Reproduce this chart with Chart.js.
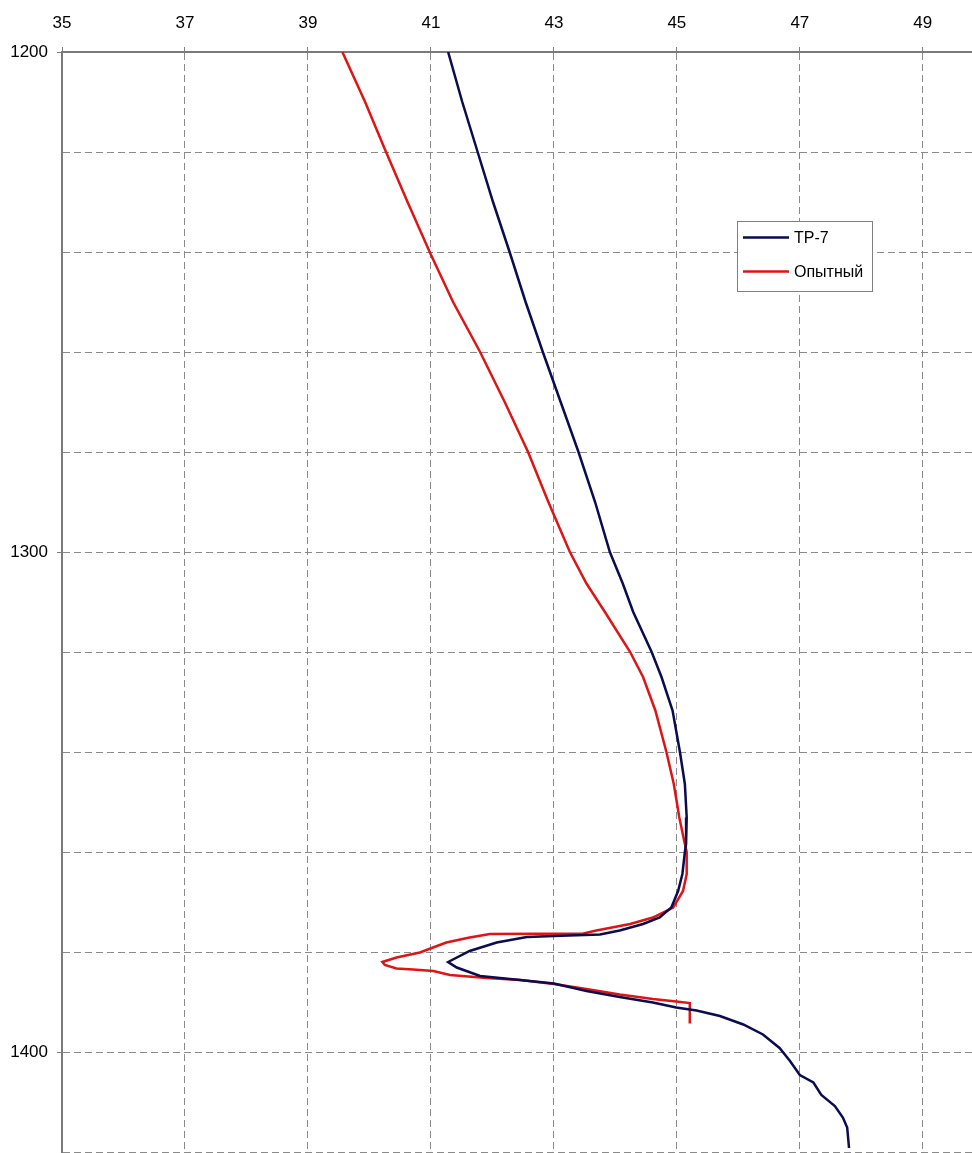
<!DOCTYPE html>
<html>
<head>
<meta charset="utf-8">
<title>Температурный профиль</title>
<script src="https://cdn.jsdelivr.net/npm/chart.js@4.4.1/dist/chart.umd.min.js"></script>
<style>
  html, body { margin: 0; padding: 0; background: #ffffff; }
  #wrap { width: 972px; height: 1153px; position: relative; }
</style>
</head>
<body>
<div id="wrap"><canvas id="chart" width="972" height="1153"></canvas></div>
<script>
// Depth (m) and temperature (°C) for the ТР-7 series
const depthTP7 = [
  1200.0, 1210.0, 1220.0, 1230.0, 1240.0, 1250.0, 1260.0, 1270.0, 1280.0, 1290.0,
  1300.0, 1306.3, 1312.0, 1320.0, 1325.0, 1331.7, 1340.0, 1346.4, 1353.1, 1358.4,
  1360.0, 1364.4, 1367.8, 1371.1, 1373.1, 1374.4, 1375.7, 1376.5, 1376.8, 1377.0,
  1378.1, 1379.8, 1382.0, 1383.1, 1384.8, 1385.6, 1386.3, 1387.8, 1389.0, 1390.1,
  1391.1, 1391.7, 1392.8, 1394.5, 1396.5, 1399.2, 1401.8, 1404.6, 1406.1, 1408.6,
  1410.8, 1413.1, 1415.1, 1419.2
];
const tempTP7 = [
  41.28, 41.51, 41.76, 42.01, 42.28, 42.54, 42.82, 43.11, 43.40, 43.67,
  43.91, 44.12, 44.29, 44.59, 44.75, 44.93, 45.05, 45.13, 45.16, 45.15,
  45.13, 45.09, 45.02, 44.91, 44.72, 44.45, 44.07, 43.75, 43.00, 42.56,
  42.07, 41.63, 41.28, 41.42, 41.80, 42.45, 43.00, 43.53, 44.07, 44.61,
  44.99, 45.32, 45.70, 46.08, 46.40, 46.67, 46.84, 47.00, 47.22, 47.35,
  47.57, 47.70, 47.77, 47.80
];

// Depth (m) and temperature (°C) for the experimental series
const depthExp = [
  1200.0, 1210.0, 1220.0, 1230.0, 1240.0, 1250.0, 1260.0, 1270.0, 1280.0, 1290.0,
  1300.0, 1306.3, 1312.0, 1320.0, 1325.0, 1331.7, 1340.0, 1346.4, 1353.1, 1358.4,
  1360.0, 1364.4, 1367.8, 1371.1, 1373.1, 1374.4, 1375.7, 1376.3, 1376.4, 1377.1,
  1378.1, 1380.1, 1381.1, 1382.0, 1382.6, 1383.3, 1383.5, 1383.8, 1384.6, 1385.2,
  1385.6, 1386.4, 1387.4, 1388.5, 1389.4, 1389.9, 1390.2, 1394.3
];
const tempExp = [
  39.56, 39.93, 40.27, 40.62, 40.98, 41.36, 41.80, 42.20, 42.58, 42.91,
  43.26, 43.53, 43.83, 44.24, 44.45, 44.65, 44.83, 44.95, 45.04, 45.13,
  45.16, 45.16, 45.10, 44.94, 44.61, 44.24, 43.69, 43.48, 41.96, 41.63,
  41.25, 40.82, 40.44, 40.21, 40.25, 40.44, 40.71, 41.04, 41.31, 41.91,
  42.45, 43.00, 43.53, 44.07, 44.61, 44.99, 45.21, 45.21
];

// Axis ticks
const tempTicks = [35, 37, 39, 41, 43, 45, 47, 49];
const depthLabelled = [1200, 1300, 1400];

const seriesNames = ['ТР-7', 'Опытный'];
const seriesColors = ['#0b0b4f', '#dd1515'];

const toPoints = (depths, temps) => depths.map((d, i) => ({ x: temps[i], y: d }));

const FONT = '"Liberation Sans", Arial, sans-serif';

// Boxed legend drawn inside the plot area
const boxLegend = {
  id: 'boxLegend',
  afterDraw(chart) {
    const ctx = chart.ctx;
    const bx = 737, by = 221, bw = 135, bh = 70;
    ctx.save();
    ctx.fillStyle = '#ffffff';
    ctx.fillRect(bx, by, bw, bh);
    ctx.strokeStyle = '#808080';
    ctx.lineWidth = 1;
    ctx.strokeRect(bx + 0.5, by + 0.5, bw, bh);
    ctx.font = '16px ' + FONT;
    ctx.textBaseline = 'middle';
    ctx.textAlign = 'left';
    chart.data.datasets.forEach((ds, i) => {
      const y = by + 16.5 + i * 34;
      ctx.strokeStyle = ds.borderColor;
      ctx.lineWidth = 2.5;
      ctx.beginPath();
      ctx.moveTo(bx + 6, y);
      ctx.lineTo(bx + 52, y);
      ctx.stroke();
      ctx.fillStyle = '#000000';
      ctx.fillText(ds.label, bx + 57, y + 1);
    });
    ctx.restore();
  }
};

new Chart(document.getElementById('chart'), {
  type: 'scatter',
  data: {
    datasets: [
      {
        label: seriesNames[0],
        data: toPoints(depthTP7, tempTP7),
        showLine: true,
        borderColor: seriesColors[0],
        backgroundColor: seriesColors[0],
        borderWidth: 2.5,
        pointRadius: 0,
        tension: 0
      },
      {
        label: seriesNames[1],
        data: toPoints(depthExp, tempExp),
        showLine: true,
        borderColor: seriesColors[1],
        backgroundColor: seriesColors[1],
        borderWidth: 2.5,
        pointRadius: 0,
        tension: 0
      }
    ]
  },
  options: {
    responsive: false,
    animation: false,
    layout: { padding: { left: 0, right: 0, top: 0, bottom: 1 } },
    plugins: {
      legend: { display: false },
      tooltip: { enabled: false }
    },
    scales: {
      x: {
        type: 'linear',
        position: 'top',
        min: 35,
        max: 49.8,
        afterBuildTicks: (scale) => { scale.ticks = tempTicks.map(v => ({ value: v })); },
        afterFit: (scale) => {
          scale.height = 52;
          scale.paddingLeft = 0;
          scale.paddingRight = 0;
        },
        ticks: {
          color: '#000000',
          font: { family: FONT, size: 17 },
          padding: 13,
          maxRotation: 0,
          autoSkip: false
        },
        grid: {
          color: '#8a8a8a',
          lineWidth: 1,
          tickLength: 5,
          tickColor: '#808080',
          tickBorderDash: []
        },
        border: { display: true, color: '#7a7a7a', width: 2, dash: [7, 4] }
      },
      y: {
        type: 'linear',
        reverse: true,
        min: 1200,
        max: 1420,
        afterBuildTicks: (scale) => {
          const t = [];
          for (let v = 1200; v <= 1420; v += 20) t.push({ value: v });
          scale.ticks = t;
        },
        afterFit: (scale) => {
          scale.width = 62;
          scale.paddingTop = 0;
          scale.paddingBottom = 0;
        },
        ticks: {
          color: '#000000',
          font: { family: FONT, size: 17 },
          padding: 9,
          autoSkip: false,
          callback: (v) => depthLabelled.includes(v) ? String(v) : ''
        },
        grid: {
          color: '#8a8a8a',
          lineWidth: 1,
          tickLength: 5,
          tickColor: (c) => depthLabelled.includes(c.tick && c.tick.value) ? '#808080' : 'rgba(0,0,0,0)',
          tickBorderDash: [7, 4]
        },
        border: { display: true, color: '#7a7a7a', width: 2, dash: [7, 4] }
      }
    }
  },
  plugins: [boxLegend]
});
</script>
</body>
</html>
